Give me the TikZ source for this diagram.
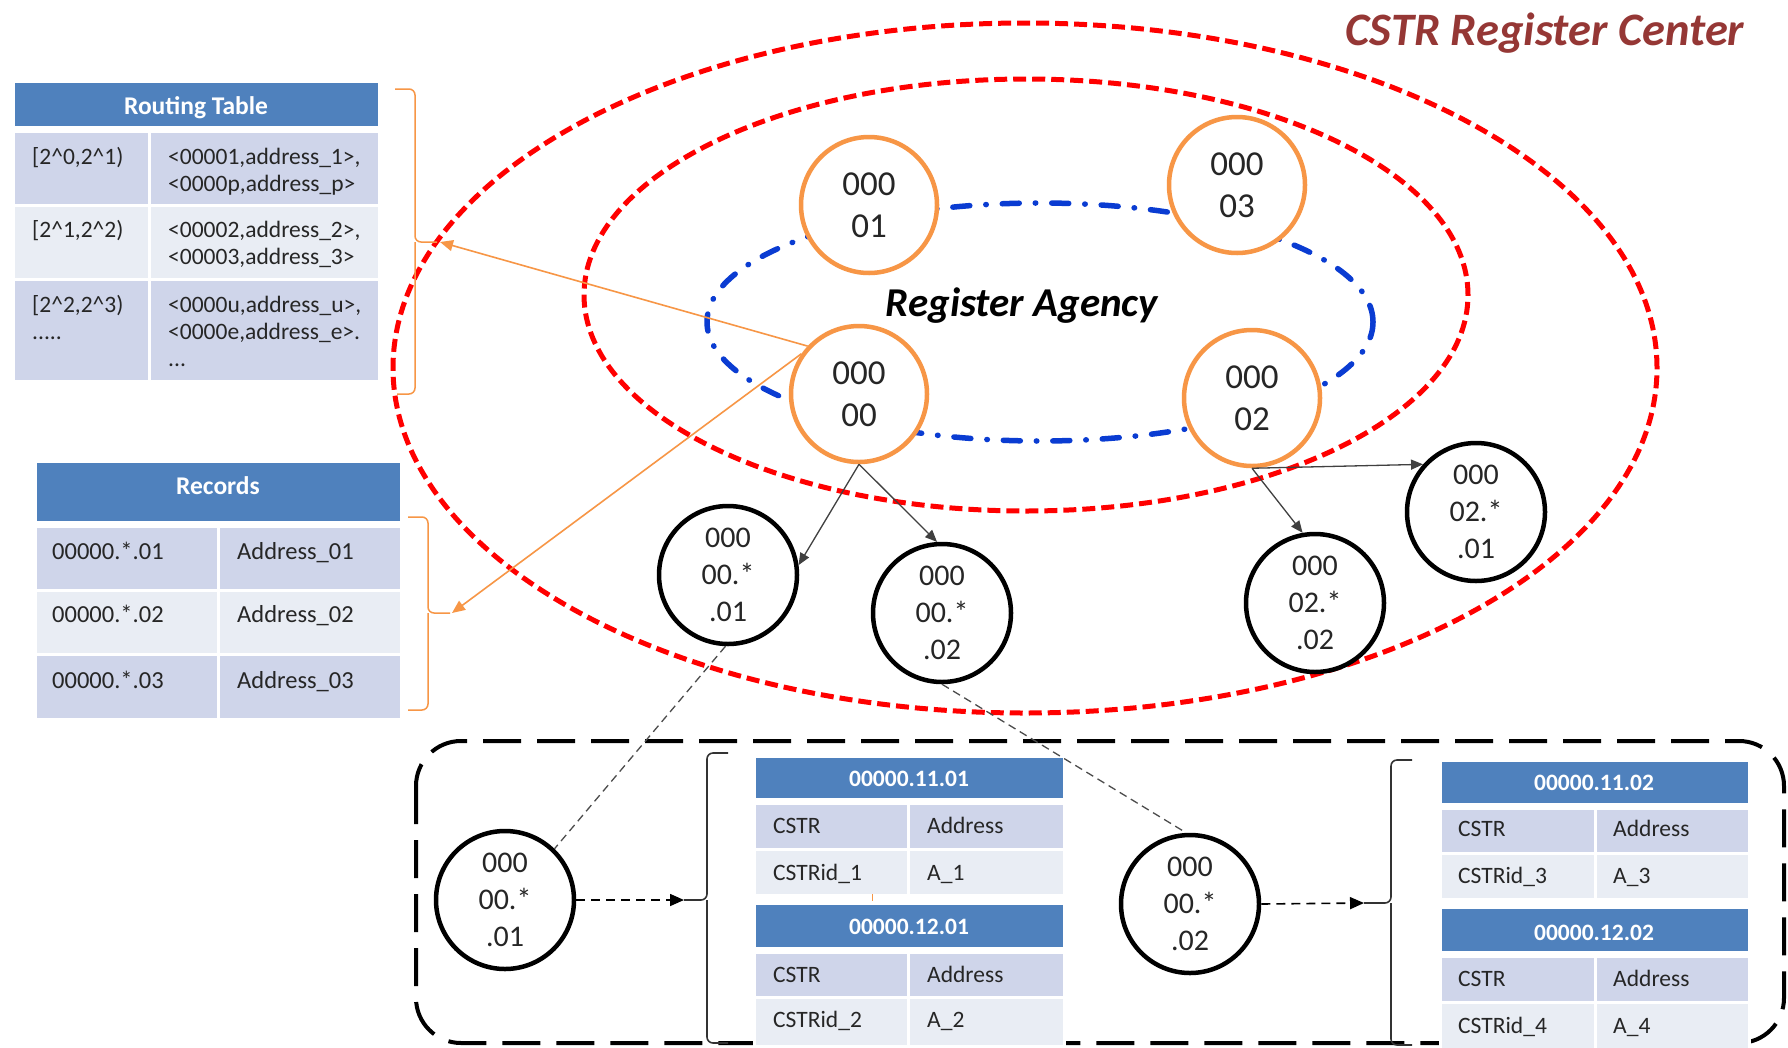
\documentclass[tikz,border=0pt]{standalone}
\usepackage{fontspec}
\setmainfont{Carlito}
\usetikzlibrary{arrows.meta}
\definecolor{hdrblue}{HTML}{4F81BD}
\definecolor{rowdark}{HTML}{CFD5EA}
\definecolor{rowlight}{HTML}{E9EDF4}
\definecolor{ringred}{HTML}{FF0000}
\definecolor{agblue}{HTML}{0A3CD2}
\definecolor{nodeorange}{HTML}{F79646}
\definecolor{titlered}{HTML}{953735}
\newcommand{\tcell}[6]{\node[cellbox, fill=#6, minimum width={#4-#2}, minimum height={#5-#3}] (#1) at (#2,#3) {};}
\tikzset{
  cellbox/.style={rectangle, draw=white, line width=3pt, anchor=north west, inner sep=0pt, outer sep=0pt},
  hdrtext/.style={text=white, font=\fontsize{25.5}{30}\selectfont\bfseries, anchor=base, inner sep=0pt},
  hdrsmall/.style={text=white, font=\fontsize{23.5}{28}\selectfont\bfseries, anchor=base, inner sep=0pt},
  rtext/.style={font=\fontsize{23.5}{27}\selectfont, anchor=north west, align=left, inner sep=0pt, text=black!85},
  ctext/.style={font=\fontsize{24.5}{29}\selectfont, anchor=base west, inner sep=0pt, text=black!85},
  btext/.style={font=\fontsize{23.5}{28}\selectfont, anchor=base west, inner sep=0pt, text=black!85},
  agent/.style={circle, draw=nodeorange, line width=4.5pt, fill=white, minimum size=136pt, inner sep=0pt, align=center, font=\fontsize{35}{42}\selectfont, text=black!85},
  leaf/.style={circle, draw=black, line width=4.5pt, fill=white, minimum size=138pt, inner sep=0pt, align=center, font=\fontsize{30}{37}\selectfont, text=black!85},
  redring/.style={draw=ringred, line width=5pt, dash pattern=on 13pt off 6pt},
  bluering/.style={draw=agblue, line width=5.5pt, line cap=round, dash pattern=on 17pt off 16pt on 0.5pt off 16pt},
  bigdash/.style={draw=black, line width=4pt, dash pattern=on 38pt off 16pt, rounded corners=45pt},
  tdash/.style={draw=black!70, line width=1.3pt, dash pattern=on 8pt off 5pt},
  karrow/.style={draw=black!75, line width=1.3pt, -{Triangle[length=12pt,width=10pt]}},
  oarrow/.style={draw=nodeorange, line width=1.6pt, -{Triangle[length=13pt,width=11pt]}},
  darrow/.style={draw=black, line width=1.6pt, dash pattern=on 9pt off 6pt, -{Triangle[length=14pt,width=12pt]}},
  obrace/.style={draw=nodeorange, line width=1.5pt, rounded corners=6pt},
  kbrace/.style={draw=black!80, line width=1.6pt, rounded corners=6pt},
}
\begin{document}
\begin{tikzpicture}[x=1pt,y=-1pt]
\fill[white] (0,0) rectangle (1788,1047);
\useasboundingbox (0,0) rectangle (1788,1047);

% rings
\draw[redring] (1025,368) ellipse [x radius=632pt, y radius=345pt];
\draw[redring] (1026,295) ellipse [x radius=442pt, y radius=216pt];
\draw[bluering] (1040,322) ellipse [x radius=333pt, y radius=119pt];

% bottom dashed frame
\draw[bigdash] (416,741) rectangle (1784,1043);

% title texts
\node[font=\fontsize{46.5}{55}\selectfont\bfseries\itshape, text=titlered, anchor=base, inner sep=0pt] (title) at (1545,45) {CSTR Register Center};
\node[font=\fontsize{41}{48}\selectfont\bfseries\itshape, anchor=base, inner sep=0pt] (agency) at (1022,316) {Register Agency};

% agency nodes
\node[agent] (a01) at (869,205) {000\\01};
\node[agent] (a03) at (1237,185) {000\\03};
\node[agent] (a00) at (859,394) {000\\00};
\node[agent] (a02) at (1252,398) {000\\02};

% leaf nodes
\node[leaf] (l001) at (728,575) {000\\00.*\\.01};
\node[leaf] (l002) at (942,613) {000\\00.*\\.02};
\node[leaf] (l022) at (1315,603) {000\\02.*\\.02};
\node[leaf] (l021) at (1476,512) {000\\02.*\\.01};
\node[leaf] (b1) at (505,900) {000\\00.*\\.01};
\node[leaf] (b2) at (1190,904) {000\\00.*\\.02};

% routing table
\tcell{crh}{13}{81}{379}{127}{hdrblue}
\tcell{cr1a}{13}{131}{149}{205}{rowdark}
\tcell{cr1b}{149}{131}{379}{205}{rowdark}
\tcell{cr2a}{13}{205}{149}{279}{rowlight}
\tcell{cr2b}{149}{205}{379}{279}{rowlight}
\tcell{cr3a}{13}{279}{149}{381}{rowdark}
\tcell{cr3b}{149}{279}{379}{381}{rowdark}
\node[hdrtext] (rth) at (196,114) {Routing Table};
\node[rtext] (r1a) at (32,145) {\strut[2\textasciicircum0,2\textasciicircum1)};
\node[rtext] (r1b) at (168,145) {\strut<00001,address\_1>,\\<0000p,address\_p>};
\node[rtext] (r2a) at (32,218) {\strut[2\textasciicircum1,2\textasciicircum2)};
\node[rtext] (r2b) at (168,218) {\strut<00002,address\_2>,\\<00003,address\_3>};
\node[rtext] (r3a) at (32,293) {\strut[2\textasciicircum2,2\textasciicircum3)\\.....};
\node[rtext] (r3b) at (168,293) {\strut<0000u,address\_u>,\\<0000e,address\_e>.\\...};

% records table
\tcell{ceh}{35}{461}{401}{522}{hdrblue}
\tcell{ce1a}{35}{526}{218}{590}{rowdark}
\tcell{ce1b}{218}{526}{401}{590}{rowdark}
\tcell{ce2a}{35}{590}{218}{654}{rowlight}
\tcell{ce2b}{218}{590}{401}{654}{rowlight}
\tcell{ce3a}{35}{654}{218}{719}{rowdark}
\tcell{ce3b}{218}{654}{401}{719}{rowdark}
\node[hdrtext] (recth) at (218,494) {Records};
\node[ctext] (e1a) at (52,559) {00000.*.01};
\node[ctext] (e1b) at (237,559) {Address\_01};
\node[ctext] (e2a) at (52,622) {00000.*.02};
\node[ctext] (e2b) at (237,622) {Address\_02};
\node[ctext] (e3a) at (52,688) {00000.*.03};
\node[ctext] (e3b) at (237,688) {Address\_03};

% bottom tables A and B
\tcell{cah}{754}{756}{1064}{799}{hdrblue}
\tcell{ca1a}{754}{803}{908}{849}{rowdark}
\tcell{ca1b}{908}{803}{1064}{849}{rowdark}
\tcell{ca2a}{754}{849}{908}{895}{rowlight}
\tcell{ca2b}{908}{849}{1064}{895}{rowlight}
\tcell{cbh}{754}{903}{1064}{948}{hdrblue}
\tcell{cb1a}{754}{952}{908}{997}{rowdark}
\tcell{cb1b}{908}{952}{1064}{997}{rowdark}
\tcell{cb2a}{754}{997}{908}{1046}{rowlight}
\tcell{cb2b}{908}{997}{1064}{1046}{rowlight}
\node[hdrsmall] (tah) at (909,786) {00000.11.01};
\node[btext] (ta1a) at (773,833) {CSTR};
\node[btext] (ta1b) at (927,833) {Address};
\node[btext] (ta2a) at (773,880) {CSTRid\_1};
\node[btext] (ta2b) at (927,880) {A\_1};
\node[hdrsmall] (tbh) at (909,934) {00000.12.01};
\node[btext] (tb1a) at (773,982) {CSTR};
\node[btext] (tb1b) at (927,982) {Address};
\node[btext] (tb2a) at (773,1027) {CSTRid\_2};
\node[btext] (tb2b) at (927,1027) {A\_2};
\draw[nodeorange, line width=1pt] (872,894) -- (872,901);

% bottom tables C and D
\tcell{cch}{1440}{760}{1749}{804}{hdrblue}
\tcell{cc1a}{1440}{808}{1595}{853}{rowdark}
\tcell{cc1b}{1595}{808}{1749}{853}{rowdark}
\tcell{cc2a}{1440}{853}{1595}{899}{rowlight}
\tcell{cc2b}{1595}{853}{1749}{899}{rowlight}
\tcell{cdh}{1440}{907}{1749}{952}{hdrblue}
\tcell{cd1a}{1440}{956}{1595}{1002}{rowdark}
\tcell{cd1b}{1595}{956}{1749}{1002}{rowdark}
\tcell{cd2a}{1440}{1002}{1595}{1052}{rowlight}
\tcell{cd2b}{1595}{1002}{1749}{1052}{rowlight}
\node[hdrsmall] (tch) at (1594,790) {00000.11.02};
\node[btext] (tc1a) at (1458,836) {CSTR};
\node[btext] (tc1b) at (1613,836) {Address};
\node[btext] (tc2a) at (1458,883) {CSTRid\_3};
\node[btext] (tc2b) at (1613,883) {A\_3};
\node[hdrsmall] (tdh) at (1594,940) {00000.12.02};
\node[btext] (td1a) at (1458,986) {CSTR};
\node[btext] (td1b) at (1613,986) {Address};
\node[btext] (td2a) at (1458,1033) {CSTRid\_4};
\node[btext] (td2b) at (1613,1033) {A\_4};

% braces
\coordinate (rtip) at (437,242);
\coordinate (rectip) at (450,613);
\coordinate (btip1) at (684,900);
\coordinate (btip2) at (1364,903);
\draw[obrace] (395,89) -- (415,89) -- (415,242) -- (rtip);
\draw[obrace] (415,242) -- (415,394) -- (397,394);
\draw[obrace] (408,517) -- (428,517) -- (428,613) -- (rectip);
\draw[obrace] (428,613) -- (428,710) -- (408,710);
\draw[kbrace] (728,753) -- (707,753) -- (707,900) -- (btip1);
\draw[kbrace] (707,900) -- (707,1043) -- (728,1043);
\draw[kbrace] (1412,760) -- (1391,760) -- (1391,903) -- (btip2);
\draw[kbrace] (1391,903) -- (1391,1045) -- (1412,1045);

% connectors
\draw[oarrow] (a00.137) -- ([xshift=3pt]rtip);
\draw[oarrow] (a00.145) -- ([xshift=2pt]rectip);
\draw[karrow] (a00.south) -- (l001.8);
\draw[karrow] (a00.south) -- (l002.94);
\draw[karrow] (a02.south) -- (l021.138);
\draw[karrow] (a02.south) -- (l022.100);
\draw[tdash] (l001.268) -- (b1.46);
\draw[tdash] (l002.south) -- (b2.93);
\draw[darrow] (b1.east) -- (btip1);
\draw[darrow] (b2.east) -- (btip2);
\end{tikzpicture}
\end{document}
